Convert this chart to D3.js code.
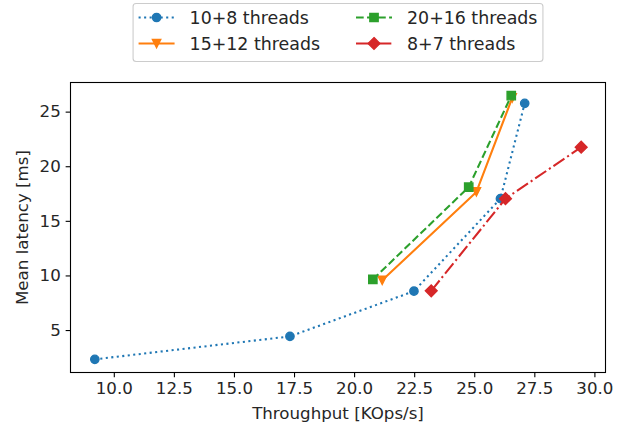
<!DOCTYPE html>
<html>
<head>
<meta charset="utf-8">
<script src="https://cdn.jsdelivr.net/npm/d3@7"></script>
<style>
  html, body { margin: 0; padding: 0; background: #fff; }
  svg { display: block; font-family: "DejaVu Sans", sans-serif; }
</style>
</head>
<body>
<svg id="chart" width="625" height="431"></svg>
<script>
// Throughput vs. mean latency for four thread configurations
const seriesNames = ["10+8 threads", "15+12 threads", "20+16 threads", "8+7 threads"];

const throughput10_8  = [9.21, 17.33, 22.49, 26.09, 27.10];
const latency10_8     = [2.32, 4.42, 8.56, 17.03, 25.76];

const throughput15_12 = [21.17, 25.09, 26.58];
const latency15_12    = [9.55, 17.65, 26.25];

const throughput20_16 = [20.78, 24.77, 26.54];
const latency20_16    = [9.63, 18.09, 26.46];

const throughput8_7   = [23.21, 26.30, 29.45];
const latency8_7      = [8.59, 17.03, 21.74];

const xTicks = [10, 12.5, 15, 17.5, 20, 22.5, 25, 27.5, 30];
const yTicks = [5, 10, 15, 20, 25];

const xLabel = "Throughput [KOps/s]";
const yLabel = "Mean latency [ms]";

// Series styles
const styles = [
  { color: "#1f77b4", dash: "2.08,3.44", marker: "circle" },
  { color: "#ff7f0e", dash: null,        marker: "triangleDown" },
  { color: "#2ca02c", dash: "7.7,3.33",  marker: "square" },
  { color: "#d62728", dash: "13.3,3.33,2.08,3.33", marker: "diamond" }
];

const series = [
  { x: throughput10_8,  y: latency10_8 },
  { x: throughput15_12, y: latency15_12 },
  { x: throughput20_16, y: latency20_16 },
  { x: throughput8_7,   y: latency8_7 }
].map((s, i) => ({
  name: seriesNames[i],
  style: styles[i],
  points: s.x.map((v, j) => ({ x: v, y: s.y[j] }))
}));

const svg = d3.select("#chart");
const fontSize = 16.67;
const legendFont = 17.4;
const plot = { left: 70.5, right: 605.5, top: 82.5, bottom: 372.5 };

// Domains padded by 5% on each side of the data extent
function padded(vals) {
  const [lo, hi] = d3.extent(vals);
  const p = (hi - lo) * 0.05;
  return [lo - p, hi + p];
}
const allX = series.flatMap(s => s.points.map(p => p.x));
const allY = series.flatMap(s => s.points.map(p => p.y));

const x = d3.scaleLinear().domain(padded(allX)).range([plot.left, plot.right]);
const y = d3.scaleLinear().domain(padded(allY)).range([plot.bottom, plot.top]);

// Axes
const tickLen = 4.86, tickPad = 4.86;
const xAxis = d3.axisBottom(x).tickValues(xTicks).tickFormat(d3.format(".1f"))
  .tickSizeInner(tickLen).tickSizeOuter(0).tickPadding(tickPad);
const yAxis = d3.axisLeft(y).tickValues(yTicks).tickFormat(d3.format("d"))
  .tickSizeInner(tickLen).tickSizeOuter(0).tickPadding(tickPad);

const gx = svg.append("g").attr("transform", `translate(0,${plot.bottom})`).call(xAxis);
const gy = svg.append("g").attr("transform", `translate(${plot.left},0)`).call(yAxis);
[gx, gy].forEach(g => {
  g.select(".domain").remove();
  g.selectAll(".tick line").attr("stroke", "#000").attr("stroke-width", 1.1);
  g.selectAll(".tick text").attr("fill", "#262626")
    .style("font-size", fontSize + "px").style("font-family", "DejaVu Sans");
});
gx.selectAll(".tick text").attr("dy", "0.72em");

// Clip region for lines and markers
svg.append("clipPath").attr("id", "plotClip").append("rect")
  .attr("x", plot.left).attr("y", plot.top)
  .attr("width", plot.right - plot.left).attr("height", plot.bottom - plot.top);

const line = d3.line().x(d => x(d.x)).y(d => y(d.y));
const ms = 8.33; // marker size in px

function markerPath(kind) {
  const h = ms / 2;
  switch (kind) {
    case "circle": return d3.symbol(d3.symbolCircle, Math.PI * h * h)();
    case "square": return `M${-h},${-h}H${h}V${h}H${-h}Z`;
    case "triangleDown": return `M0,${h}L${-h},${-h}L${h},${-h}Z`;
    case "diamond": {
      const r = h * Math.SQRT2;
      return `M0,${-r}L${r},0L0,${r}L${-r},0Z`;
    }
  }
}

const gData = svg.append("g").attr("clip-path", "url(#plotClip)");
series.forEach(s => {
  const g = gData.append("g");
  g.append("path").datum(s.points)
    .attr("d", line).attr("fill", "none")
    .attr("stroke", s.style.color).attr("stroke-width", 2.08)
    .attr("stroke-dasharray", s.style.dash)
    .attr("stroke-linecap", "butt").attr("stroke-linejoin", "round");
  g.selectAll("path.mk").data(s.points).join("path").attr("class", "mk")
    .attr("transform", d => `translate(${x(d.x)},${y(d.y)})`)
    .attr("d", markerPath(s.style.marker))
    .attr("fill", s.style.color).attr("stroke", s.style.color).attr("stroke-width", 1.39)
    .attr("stroke-linejoin", "miter");
});

// Frame
svg.append("rect")
  .attr("x", plot.left).attr("y", plot.top)
  .attr("width", plot.right - plot.left).attr("height", plot.bottom - plot.top)
  .attr("fill", "none").attr("stroke", "#000").attr("stroke-width", 1.1);

// Axis titles
svg.append("text")
  .attr("x", (plot.left + plot.right) / 2).attr("y", 419)
  .attr("text-anchor", "middle").attr("fill", "#262626")
  .style("font-size", fontSize + "px").text(xLabel);
svg.append("text")
  .attr("transform", `translate(28,${(plot.top + plot.bottom) / 2}) rotate(-90)`)
  .attr("text-anchor", "middle").attr("fill", "#262626")
  .style("font-size", fontSize + "px").text(yLabel);

// Legend: two columns above the plot, centred on it
const legend = svg.append("g");
const handleLen = 36, handlePad = 15, colSpacing = 36, border = 5.5;
const rowY = [17.5, 43.5];
const columns = [[0, 1], [2, 3]];

// measure label widths
const measure = svg.append("text").style("font-size", legendFont + "px");
const widths = seriesNames.map(n => { measure.text(n); return measure.node().getComputedTextLength(); });
measure.remove();

const colWidths = columns.map(c => handleLen + handlePad + d3.max(c, i => widths[i]));
const totalW = border * 2 + colWidths[0] + colSpacing + colWidths[1];
const lx0 = (plot.left + plot.right) / 2 - totalW / 2;

legend.append("rect")
  .attr("x", lx0).attr("y", 3.5).attr("width", totalW).attr("height", 58)
  .attr("rx", 3).attr("ry", 3)
  .attr("fill", "#fff").attr("fill-opacity", 0.8)
  .attr("stroke", "#cccccc").attr("stroke-width", 1.1);

let cx = lx0 + border;
columns.forEach((col, ci) => {
  col.forEach((si, ri) => {
    const s = series[si];
    const yy = rowY[ri];
    legend.append("line")
      .attr("x1", cx).attr("x2", cx + handleLen).attr("y1", yy).attr("y2", yy)
      .attr("stroke", s.style.color).attr("stroke-width", 2.08)
      .attr("stroke-dasharray", s.style.dash);
    legend.append("path")
      .attr("transform", `translate(${cx + handleLen / 2},${yy})`)
      .attr("d", markerPath(s.style.marker))
      .attr("fill", s.style.color).attr("stroke", s.style.color).attr("stroke-width", 1.39);
    legend.append("text")
      .attr("x", cx + handleLen + handlePad).attr("y", yy).attr("dy", "0.35em")
      .attr("fill", "#262626").style("font-size", legendFont + "px").text(s.name);
  });
  cx += colWidths[ci] + colSpacing;
});
</script>
</body>
</html>
